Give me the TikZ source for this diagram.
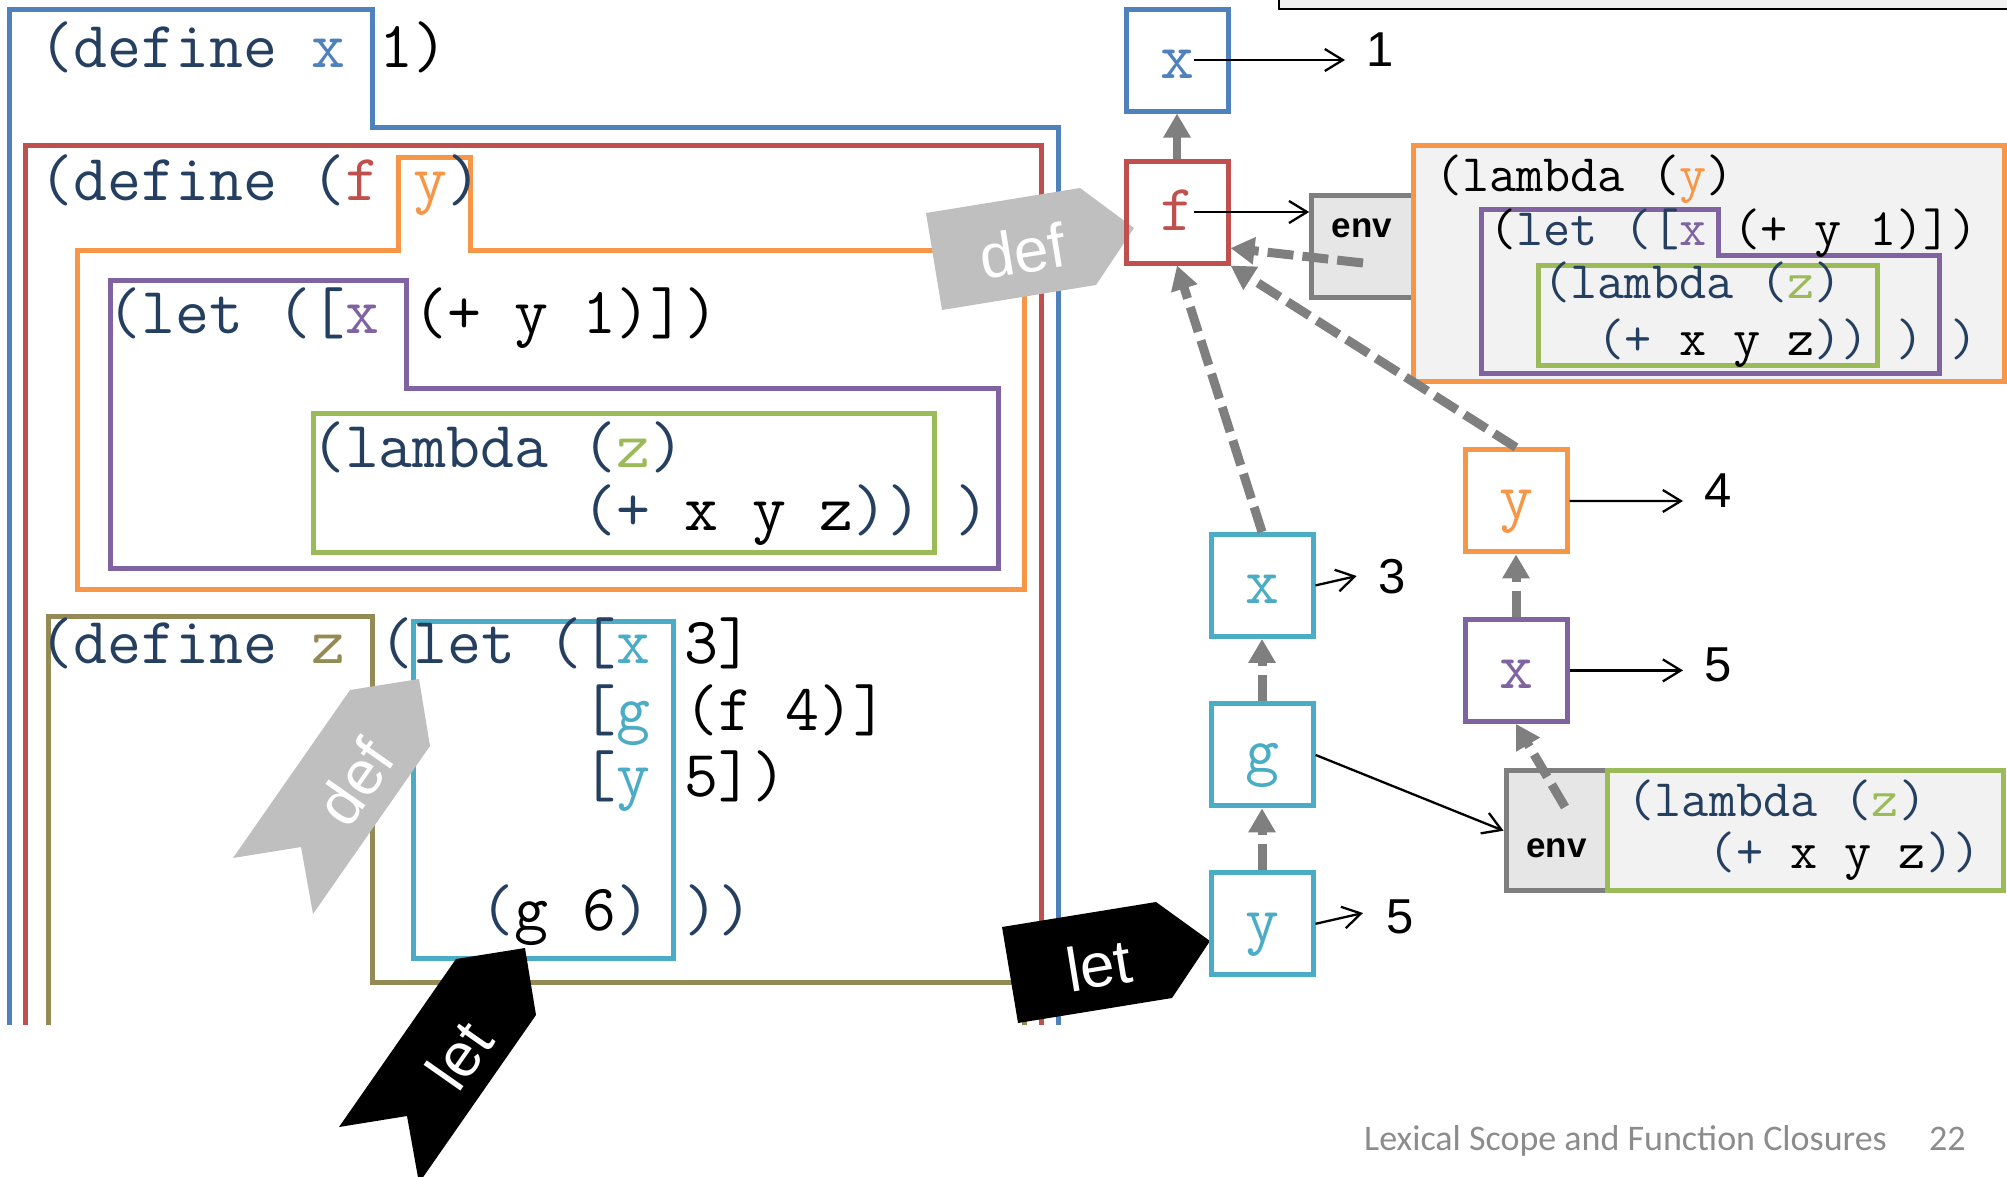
\documentclass[tikz,border=0pt]{standalone}
\usepackage{fontspec}
\usetikzlibrary{arrows.meta}
\newfontfamily\lsans{Liberation Sans}
\newfontfamily\fgfont{Carlito}
\definecolor{cblue}{HTML}{4F81BD}
\definecolor{cred}{HTML}{C0504D}
\definecolor{corange}{HTML}{F79646}
\definecolor{cpurple}{HTML}{8064A2}
\definecolor{cgreen}{HTML}{9BBB59}
\definecolor{colive}{HTML}{948A54}
\definecolor{ccyan}{HTML}{4BACC6}
\definecolor{cnavy}{HTML}{243F60}
\definecolor{cgray}{HTML}{7F7F7F}
\definecolor{cflag}{HTML}{BFBFBF}
\definecolor{cenv}{HTML}{E6E6E6}
\definecolor{cfill}{HTML}{F2F2F2}
\definecolor{cfoot}{HTML}{8C8C8C}
\newcommand\navytxt[1]{\textcolor{cnavy}{#1}}
\begin{document}
\begin{tikzpicture}[x=1pt,y=-1pt,
  scopebox/.style={line width=5pt, line join=miter},
  code/.style={inner sep=0pt, anchor=base west, font=\ttfamily\fontsize{65.9}{70}\selectfont},
  ccode/.style={inner sep=0pt, anchor=base west, font=\ttfamily\fontsize{52.7}{56}\selectfont},
  varbox/.style={draw, line width=5pt, minimum width=102pt, minimum height=102pt, inner sep=0pt, text height=40pt, text depth=4pt, font=\ttfamily\fontsize{65.9}{70}\selectfont},
  envbox/.style={draw=cgray, fill=cenv, line width=5pt, inner sep=0pt},
  envtxt/.style={inner sep=0pt, font=\lsans\bfseries\fontsize{35}{40}\selectfont},
  num/.style={inner sep=0pt, font=\lsans\fontsize{49}{55}\selectfont},
  val/.style={draw=black, line width=2.3pt, -{Straight Barb[length=18pt,width=22pt]}},
  envptr/.style={draw=cgray, line width=9pt, dash pattern=on 26pt off 9pt, -{Triangle[length=24pt,width=26pt]}},
  flagtxt/.style={inner sep=0pt, text=white, font=\lsans\fontsize{62}{70}\selectfont},
  foottxt/.style={inner sep=0pt, anchor=base west, text=cfoot, font=\fgfont\fontsize{36}{40}\selectfont}
]
\useasboundingbox (0,0) rectangle (2007,1176);
\clip (0,0) rectangle (2007,1176);

% top right frame edge
\draw[line width=2.5pt, fill=cfill] (1279,-20) rectangle (2030,9);

% left code scopes
\begin{scope}
\clip (0,0) rectangle (1100,1024);
\draw[scopebox, cblue] (9,1040) -- (9,9) -- (372,9) -- (372,127) -- (1058.6,127) -- (1058.6,1040);
\draw[scopebox, cred] (25.7,1040) -- (25.7,145) -- (1041,145) -- (1041,1040);
\draw[scopebox, corange] (77,589) -- (77,250) -- (398,250) -- (398,157) -- (470,157) -- (470,250) -- (1024.6,250) -- (1024.6,589) -- cycle;
\draw[scopebox, cpurple] (110,568) -- (110,280) -- (406,280) -- (406,388) -- (998.6,388) -- (998.6,568) -- cycle;
\draw[scopebox, cgreen] (313.5,413) rectangle (934,552);
\draw[scopebox, colive] (48,1040) -- (48,616) -- (372.5,616) -- (372.5,982) -- (1024,982) -- (1024,1040);
\draw[scopebox, ccyan] (413.6,621.8) rectangle (673.6,958);
\end{scope}

% left code text
\node[code] (l1) at (39.7,67) {\navytxt{(define }\textcolor{cblue}{x} 1)};
\node[code] (l2) at (39.7,200) {\navytxt{(define (}\textcolor{cred}{f} \textcolor{corange}{y}\navytxt{)}};
\node[code] (l3) at (107.5,333) {\navytxt{(let ([}\textcolor{cpurple}{x} (+ y 1)])};
\node[code] (l4) at (310.9,467) {\navytxt{(lambda (}\textcolor{cgreen}{z}\navytxt{)}};
\node[code] (l5) at (582.1,530) {\navytxt{(+} x y z\navytxt{))} \navytxt{)}};
\node[code] (l6) at (39.7,663.6) {\navytxt{(define }\textcolor{colive}{z} \navytxt{(let ([}\textcolor{ccyan}{x} 3]};
\node[code] (l7) at (582.1,730) {\navytxt{[}\textcolor{ccyan}{g} (f 4)]};
\node[code] (l8) at (582.1,796.6) {\navytxt{[}\textcolor{ccyan}{y} 5])};
\node[code] (l9) at (480.4,930) {\navytxt{(}g 6\navytxt{)} \navytxt{))}};

% flags
\fill[cflag] (926,213) -- (1080,188) -- (1134,228) -- (1096,285) -- (942,310) -- cycle;
\node[flagtxt, rotate=9.2] (defA) at (1022,251) {def};
\fill[cflag] (350,690) -- (419,679) -- (430,746) -- (313,914) -- (301,847) -- (233,858) -- cycle;
\node[flagtxt, rotate=55] (defB) at (355,782) {def};
\fill[black] (456,959) -- (525,948) -- (536,1015) -- (419,1183) -- (407,1116) -- (339,1127) -- cycle;
\node[flagtxt, rotate=55] (letA) at (459,1055) {let};
\fill[black] (1002,927) -- (1156,902) -- (1210,941) -- (1172,998) -- (1018,1023) -- cycle;
\node[flagtxt, rotate=9.2] (letB) at (1099,965) {let};

% closure 1
\node[envbox, minimum width=101.3pt, minimum height=102.7pt] (env1) at (1362.35,246.35) {};
\node[draw=corange, fill=cfill, line width=5pt, minimum width=590.5pt, minimum height=236.7pt, inner sep=0pt] (clo1) at (1708.75,263.35) {};
\draw[scopebox, cpurple] (1481,373) -- (1481,209) -- (1718,209) -- (1718,255.7) -- (1939,255.7) -- (1939,373) -- cycle;
\draw[scopebox, cgreen] (1538,265.7) rectangle (1877,365.7);
\node[ccode] (c1) at (1434.85,191.7) {(lambda (\textcolor{corange}{y})};
\node[ccode] (c2) at (1489.05,245.7) {(\navytxt{let ([}\textcolor{cpurple}{x} (+ y 1)])};
\node[ccode] (c3) at (1543.25,298.3) {\navytxt{(lambda (}\textcolor{cgreen}{z}\navytxt{)}};
\node[ccode] (c4) at (1597.45,355) {\navytxt{(+} x y z\navytxt{))} \navytxt{)} \navytxt{)}};
\node[envtxt] (env1t) at (1362,228) {env};

% closure 2
\node[envbox, minimum width=101pt, minimum height=119.5pt] (env2) at (1556.5,830.7) {};
\node[draw=cgreen, fill=cfill, line width=5pt, minimum width=396pt, minimum height=119.5pt, inner sep=0pt] (clo2) at (1805,830.7) {};
\node[ccode] (e1) at (1627.45,816.7) {\navytxt{(lambda (}\textcolor{cgreen}{z}\navytxt{)}};
\node[ccode] (e2) at (1708.75,868.3) {\navytxt{(+} x y z\navytxt{))}};
\node[envtxt] (env2t) at (1556.6,848) {env};

% variable boxes
\node[varbox, draw=cblue, text=cblue] (xg) at (1177,60) {x};
\node[varbox, draw=cred, text=cred] (fg) at (1177,212) {f};
\node[varbox, draw=ccyan, text=ccyan] (cx) at (1262,585.4) {x};
\node[varbox, draw=ccyan, text=ccyan] (cg) at (1262,754.9) {g};
\node[varbox, draw=ccyan, text=ccyan] (cy) at (1262,923.8) {y};
\node[varbox, draw=corange, text=corange] (oy) at (1516,500.9) {y};
\node[varbox, draw=cpurple, text=cpurple] (px) at (1516,670.4) {x};

% values
\node[num] (n1) at (1380,50) {1};
\node[num] (n3) at (1391.7,576.7) {3};
\node[num] (n5a) at (1400,917) {5};
\node[num] (n4) at (1718,491) {4};
\node[num] (n5b) at (1718,665) {5};
\coordinate (t1) at (1345,60);
\coordinate (t3) at (1356.7,576);
\coordinate (t5a) at (1363,913);
\coordinate (t4) at (1683,501);
\coordinate (t5b) at (1683,670.4);
\coordinate (e1s) at (1363,263);
\coordinate (e2s) at (1565,807);

\draw[val] ([xshift=17pt]xg.center) -- (t1);
\draw[val] ([xshift=17pt]fg.center) -- (fg.center -| env1.west);
\draw[val] (cx.east) -- (t3);
\draw[val] (cg.east) -- (env2.west);
\draw[val] (cy.east) -- (t5a);
\draw[val] (oy.east) -- (t4);
\draw[val] (px.east) -- (t5b);

% environment pointers
\draw[draw=cgray, line width=8.3pt, -{Triangle[length=24pt,width=26pt]}] (fg.north) -- (xg.south);
\draw[envptr] (e1s) -- (fg.-34);
\draw[envptr] (oy.north) -- (fg.south east);
\draw[envptr] (cx.north) -- (fg.south);
\draw[envptr] (cg.north) -- (cx.south);
\draw[envptr] (cy.north) -- (cg.south);
\draw[envptr] (px.north) -- (oy.south);
\draw[envptr] (e2s) -- (px.south);

% footer
\node[foottxt] (foot) at (1364,1150.5) {Lexical Scope and Function Closures};
\node[foottxt] (pg) at (1929,1150.5) {22};
\end{tikzpicture}
\end{document}
